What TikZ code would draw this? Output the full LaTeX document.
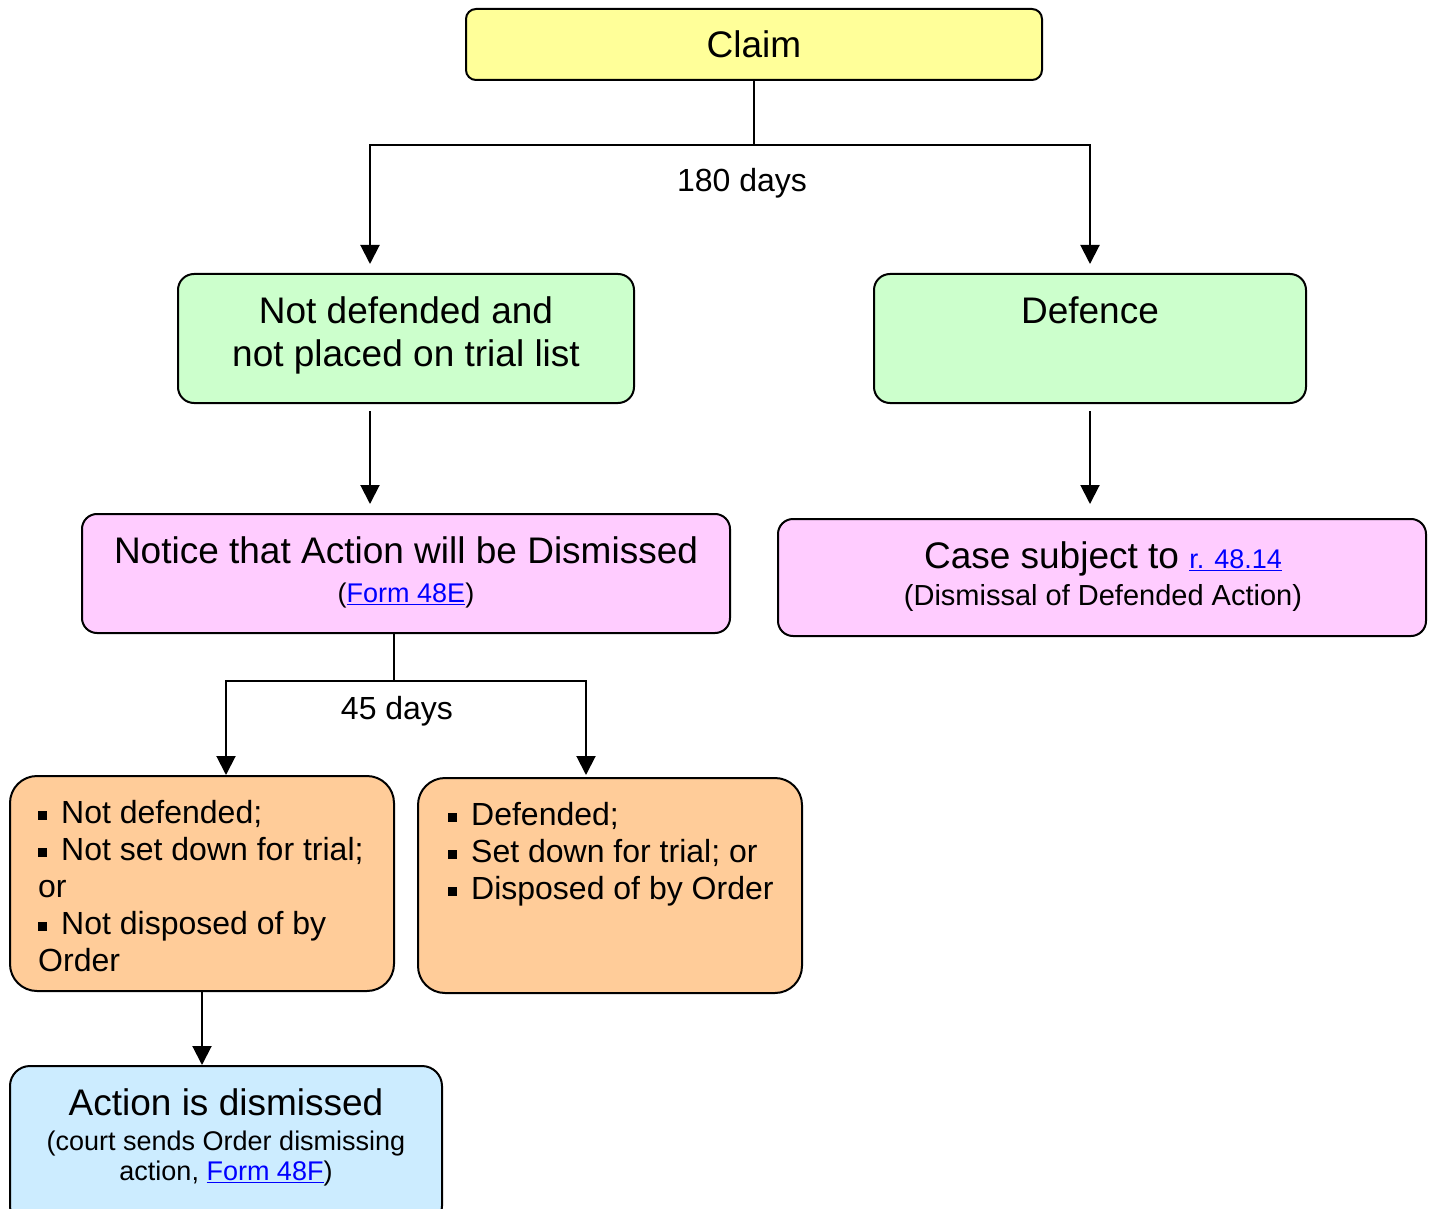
\documentclass[tikz,border=0pt]{standalone}
\usepackage{fontspec}
\setmainfont{Liberation Sans}
\usetikzlibrary{arrows.meta}
\definecolor{claimyellow}{HTML}{FFFF99}
\definecolor{stepgreen}{HTML}{CCFFCC}
\definecolor{noticepink}{HTML}{FFCCFF}
\definecolor{resultorange}{HTML}{FFCC99}
\definecolor{dismissblue}{HTML}{CCECFF}
\definecolor{linkblue}{HTML}{0000FF}
\newcommand{\formlink}[1]{\textcolor{linkblue}{\underline{#1}}}
\newcommand{\sqitem}{\rule[4pt]{9pt}{9pt}\hspace{14pt}}
\newcommand{\smallsize}{\fontsize{27}{30}\selectfont}

\begin{document}
\begin{tikzpicture}[x=1pt, y=-1pt,
    box/.style={draw = black, line width=2pt, inner sep=0pt},
    link/.style={draw = black, line width=2pt},
    arrowed/.style={link, -{Triangle[length=19pt,width=19pt]}},
    big/.style={font=\fontsize{37}{43}\selectfont, inner sep=0pt},
    mid/.style={font=\fontsize{32}{37}\selectfont, inner sep=0pt}]
    \useasboundingbox (0,0) rectangle (1433,1209);

    \node[box, fill = claimyellow, rounded corners=10pt, minimum width=576pt, minimum height=71pt] (claim) at (754,44.5) {};
    \node[box, fill = stepgreen, rounded corners=16pt, minimum width=456pt, minimum height=129pt] (notdef) at (406,338.5) {};
    \node[box, fill = stepgreen, rounded corners=16pt, minimum width=432pt, minimum height=129pt] (defence) at (1090,338.5) {};
    \node[box, fill = noticepink, rounded corners=15pt, minimum width=648pt, minimum height=119pt] (notice) at (406,573.5) {};
    \node[box, fill = noticepink, rounded corners=15pt, minimum width=648pt, minimum height=117pt] (casebox) at (1102,577.5) {};
    \node[box, fill = resultorange, rounded corners=27pt, minimum width=384pt, minimum height=215pt] (ordL) at (202,883.5) {};
    \node[box, fill = resultorange, rounded corners=27pt, minimum width=384pt, minimum height=215pt] (ordR) at (610,885.5) {};
    \node[box, fill = dismissblue, rounded corners=20pt, minimum width=432pt, minimum height=160pt] (dismissed) at (226,1146) {};

    \node[big] (claimtext) at (754,44) {Claim};
    \node[big, align=center] (notdeftext) at (406,335) {Not defended and\\not placed on trial list};
    \node[big] (defencetext) at (1090,310) {Defence};
    \node[big, align=center] (noticetext) at (406,572)
        {Notice that Action will be Dismissed\\[-4pt]{\smallsize(\formlink{Form 48E})}};
    \node[big, align=center] (casetext) at (1103,576.5)
        {Case subject to {\smallsize\formlink{r. 48.14}}\\[-6pt]{\fontsize{29}{33}\selectfont(Dismissal of Defended Action)}};
    \node[mid, align=left, anchor=west] (ordLtext) at (38,886.5)
        {\sqitem Not defended;\\\sqitem Not set down for trial;\\or\\\sqitem Not disposed of by\\Order};
    \node[mid, align=left, anchor=west] (ordRtext) at (448,854.5)
        {\sqitem Defended;\\\sqitem Set down for trial; or\\\sqitem Disposed of by Order};
    \node[big, align=center] (dismissedtext) at (226,1137)
        {Action is dismissed\\[-8pt]{\smallsize(court sends Order dismissing}\\[-13pt]{\smallsize action, \formlink{Form 48F})}};

    \coordinate (forkA) at (754,145);
    \coordinate (laneA) at (370,145);
    \draw[link] (claim.south) to (forkA);
    \draw[arrowed, shorten >=9pt] (forkA) -| (laneA |- notdef.north);
    \draw[arrowed, shorten >=9pt] (forkA) -| (defence.north);
    \node[mid] (days180) at (742,183) {180 days};
    \draw[arrowed, shorten <=7pt, shorten >=9pt] (laneA |- notdef.south) to (laneA |- notice.north);
    \draw[arrowed, shorten <=7pt, shorten >=14pt] (defence.south) to (defence.south |- casebox.north);

    \coordinate (forkB) at (394,681);
    \coordinate (laneB1) at (226,681);
    \coordinate (laneB2) at (586,681);
    \draw[link] (forkB |- notice.south) to (forkB);
    \draw[arrowed] (forkB) -| (laneB1 |- ordL.north);
    \draw[arrowed] (forkB) -| (laneB2 |- ordL.north);
    \node[mid] (days45) at (397,711) {45 days};
    \draw[arrowed] (ordL.south) to (ordL.south |- dismissed.north);

\end{tikzpicture}
\end{document}
